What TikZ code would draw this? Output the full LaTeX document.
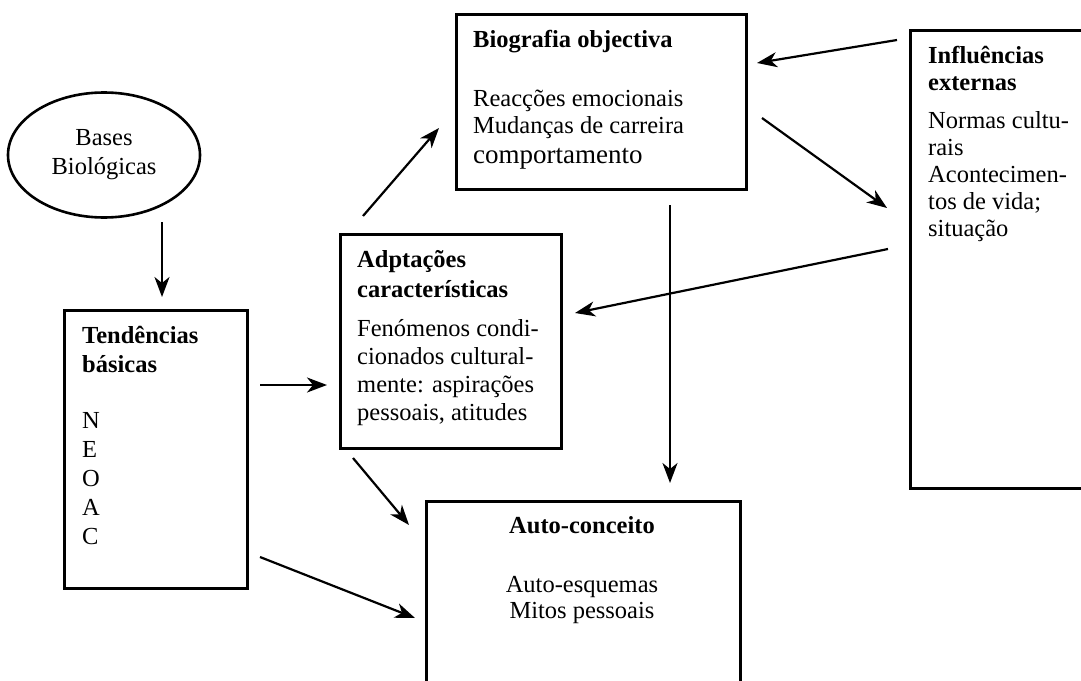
\documentclass[tikz,border=0pt]{standalone}
\usepackage{fontspec}
\setmainfont{Liberation Serif}
\usetikzlibrary{positioning, arrows.meta, shapes.geometric}

\tikzset{
  box/.style={draw, line width=2.6pt, rectangle, inner sep=0pt, anchor=north west},
  txt/.style={inner sep=0pt, anchor=north west, align=left},
  arr/.style={line width=2.2pt, -{Stealth[length=20pt, width=15pt, inset=6pt]}}
}

\begin{document}
\begin{tikzpicture}[x=1pt, y=-1pt]
\useasboundingbox (0,0) rectangle (1081,680);
\clip (0,0) rectangle (1081,680);

% boxes
\node[draw, line width=2.6pt, ellipse, minimum width=192pt, minimum height=125pt, inner sep=0pt,
      align=center, font=\fontsize{24.5}{29}\selectfont] (bases) at (104,155) {Bases\\Biológicas};
\node[box, minimum width=183pt, minimum height=278pt] (tend) at (63,309) {};
\node[box, minimum width=221pt, minimum height=214pt] (adpt) at (339,233) {};
\node[box, minimum width=290pt, minimum height=175pt] (bio) at (455,13) {};
\node[box, minimum width=186pt, minimum height=458pt] (infl) at (909,29) {};
\node[box, minimum width=314pt, minimum height=200pt] (auto) at (425,500) {};

% texts
\node[txt, font=\fontsize{24.5}{29}\selectfont] (tendtxt) at (82,322.7)
  {\strut\textbf{Tendências}\\\textbf{básicas}\\[27pt]N\\E\\O\\A\\C};
\node[txt, font=\fontsize{24.5}{28}\selectfont] (adpttxt) at (357,247.4)
  {\strut\textbf{Adptações}\\[2pt]\textbf{características}\\[11pt]Fenómenos condi-\\cionados cultural-\\mente: aspirações\\pessoais, atitudes};
\node[txt, font=\fontsize{24.5}{27}\selectfont] (biotxt) at (473,28.1)
  {\strut\textbf{Biografia objectiva}\\[32pt]Reacções emocionais\\Mudanças de carreira\\[3pt]{\fontsize{27}{27}\selectfont comportamento}};
\node[txt, font=\fontsize{24.5}{27}\selectfont] (infltxt) at (928,44.1)
  {\strut\textbf{Influências}\\\textbf{externas}\\[11pt]Normas cultu-\\rais\\Acontecimen-\\tos de vida;\\situação};
\node[txt, anchor=north, align=center, font=\fontsize{24.5}{26}\selectfont] (autotxt) at (582,514.8)
  {\strut\textbf{Auto-conceito}\\[33pt]Auto-esquemas\\Mitos pessoais};

% arrow ends
\coordinate (bases-out) at (162,222);
\coordinate (tend-in)   at (162,297);
\coordinate (tend-out1) at (260,385);
\coordinate (adpt-in1)  at (327,385);
\coordinate (tend-out2) at (260,557);
\coordinate (auto-in1)  at (415,618);
\coordinate (adpt-out1) at (353,458);
\coordinate (auto-in2)  at (409,525);
\coordinate (adpt-out2) at (363,216);
\coordinate (bio-in1)   at (439,128);
\coordinate (bio-out1)  at (670,205);
\coordinate (auto-in3)  at (670,483);
\coordinate (bio-out2)  at (762,118);
\coordinate (infl-in)   at (887,208);
\coordinate (infl-out1) at (897,40);
\coordinate (bio-in2)   at (757,63);
\coordinate (infl-out2) at (888,249);
\coordinate (adpt-in2)  at (575,313);

\draw[arr] (bases-out) -- (tend-in);
\draw[arr] (tend-out1) -- (adpt-in1);
\draw[arr] (tend-out2) -- (auto-in1);
\draw[arr] (adpt-out1) -- (auto-in2);
\draw[arr] (adpt-out2) -- (bio-in1);
\draw[arr] (bio-out1) -- (auto-in3);
\draw[arr] (bio-out2) -- (infl-in);
\draw[arr] (infl-out1) -- (bio-in2);
\draw[arr] (infl-out2) -- (adpt-in2);
\end{tikzpicture}
\end{document}
